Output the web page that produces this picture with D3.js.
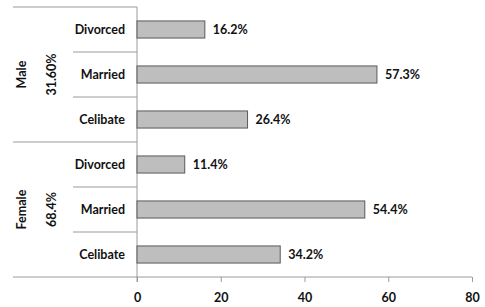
<!DOCTYPE html>
<html><head><meta charset="utf-8">
<script src="https://cdn.jsdelivr.net/npm/d3@7"></script>
<style>
html,body{margin:0;padding:0;background:#fff;}
text{font-family:Lato,"Open Sans",sans-serif;font-weight:bold;fill:#111;}
</style></head>
<body><svg id="c" width="485" height="307"></svg>
<script>
const groups = ["Male", "Female"];
const groupShares = ["31.60%", "68.4%"];
const statuses = ["Divorced", "Married", "Celibate"];
const maleValues = [16.2, 57.3, 26.4];
const femaleValues = [11.4, 54.4, 34.2];
const xTicks = [0, 20, 40, 60, 80];

(function () {
const rows = [];
groups.forEach((g, gi) => {
  const vals = gi === 0 ? maleValues : femaleValues;
  statuses.forEach((s, si) => rows.push({group: g, gi, status: s, value: vals[si], key: g + "-" + s}));
});

const svg = d3.select("#c");
const pLeft = 137, pRight = 472, pTop = 7, pBottom = 277, outerLeft = 13;
const fs = "12.5px";
const x = d3.scaleLinear().domain([0, 80]).range([pLeft, pRight]);
const y = d3.scaleBand().domain(rows.map(r => r.key)).range([pTop, pBottom]).paddingInner(0.62).paddingOuter(0.31);
const band = (pBottom - pTop) / rows.length;

const lineColor = "#9a9a9a";
svg.append("line").attr("x1", outerLeft).attr("x2", pLeft).attr("y1", pTop).attr("y2", pTop).attr("stroke", lineColor);
rows.forEach((r, i) => {
  if (i === 0) return;
  const yy = pTop + band * i;
  const isGroup = i % 3 === 0;
  svg.append("line").attr("x1", isGroup ? outerLeft : 73).attr("x2", pLeft)
    .attr("y1", yy).attr("y2", yy).attr("stroke", lineColor);
});
svg.append("line").attr("x1", pLeft).attr("x2", pLeft).attr("y1", pTop).attr("y2", pBottom + 5).attr("stroke", lineColor);
const xa = svg.append("g").attr("transform", `translate(0,${pBottom})`)
  .call(d3.axisBottom(x).tickValues(xTicks).tickSize(5).tickSizeOuter(0).tickPadding(11));
xa.select(".domain").attr("stroke", lineColor).attr("d", `M${outerLeft},0H${pRight}`);
xa.selectAll(".tick line").attr("stroke", lineColor);
xa.selectAll(".tick text").attr("font-size", fs).attr("font-family", "Lato,sans-serif").attr("font-weight", "bold").attr("fill", "#111");

svg.selectAll("rect.bar").data(rows).join("rect").attr("class", "bar")
  .attr("x", x(0)).attr("y", d => y(d.key)).attr("width", d => x(d.value) - x(0)).attr("height", y.bandwidth())
  .attr("fill", "#bebebe").attr("stroke", "#5a5a5a").attr("stroke-width", 1);

svg.selectAll("text.val").data(rows).join("text").attr("class", "val")
  .attr("x", d => x(d.value) + 8).attr("y", d => y(d.key) + y.bandwidth() / 2).attr("dy", "0.35em")
  .attr("font-size", fs).text(d => d.value.toFixed(1) + "%");

svg.selectAll("text.cat").data(rows).join("text").attr("class", "cat")
  .attr("x", 125).attr("y", d => y(d.key) + y.bandwidth() / 2).attr("dy", "0.35em")
  .attr("text-anchor", "end").attr("font-size", fs).text(d => d.status);

groups.forEach((g, gi) => {
  const cy = pTop + band * (gi * 3 + 1.5);
  svg.append("text").attr("transform", `translate(22,${cy}) rotate(-90)`).attr("text-anchor", "middle")
    .attr("dy", "0.35em").attr("font-size", fs).text(g);
  svg.append("text").attr("transform", `translate(52,${cy}) rotate(-90)`).attr("text-anchor", "middle")
    .attr("dy", "0.35em").attr("font-size", fs).text(groupShares[gi]);
});
})();
</script></body></html>
